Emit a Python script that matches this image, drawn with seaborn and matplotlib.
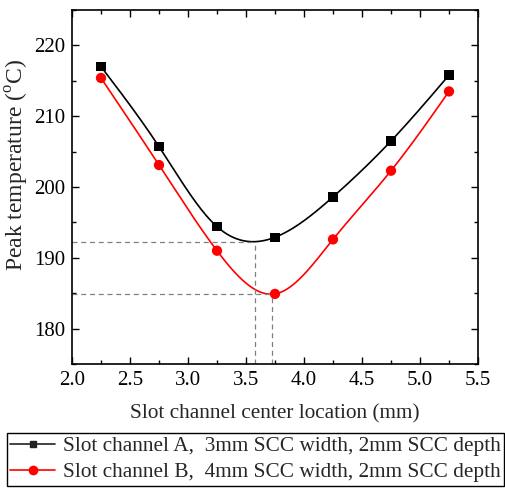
import numpy as np
import pandas as pd
import seaborn as sns
import matplotlib
matplotlib.use("Agg")
import matplotlib.pyplot as plt
from matplotlib.ticker import MultipleLocator
from matplotlib.lines import Line2D

location = [2.25, 2.75, 3.25, 3.75, 4.25, 4.75, 5.25]
temp_a = [217.0, 205.7, 194.4, 192.9, 198.6, 206.5, 215.8]
temp_b = [215.4, 203.1, 191.0, 184.9, 192.6, 202.3, 213.5]
label_a = "Slot channel A,  3mm SCC width, 2mm SCC depth"
label_b = "Slot channel B,  4mm SCC width, 2mm SCC depth"
min_a = (3.58, 192.3)
min_b = (3.72, 184.9)

sns.set_style("ticks")
plt.rcParams["font.family"] = ["Liberation Serif", "DejaVu Serif"]
plt.rcParams["mathtext.fontset"] = "custom"
plt.rcParams["mathtext.rm"] = "Liberation Serif"


def natural_spline(x, y, xs):
    x = np.asarray(x, float); y = np.asarray(y, float)
    n = len(x)
    h = np.diff(x)
    A = np.zeros((n, n)); r = np.zeros(n)
    A[0, 0] = A[-1, -1] = 1
    for i in range(1, n - 1):
        A[i, i - 1] = h[i - 1]; A[i, i] = 2 * (h[i - 1] + h[i]); A[i, i + 1] = h[i]
        r[i] = 3 * ((y[i + 1] - y[i]) / h[i] - (y[i] - y[i - 1]) / h[i - 1])
    c = np.linalg.solve(A, r)
    b = (y[1:] - y[:-1]) / h - h * (2 * c[:-1] + c[1:]) / 3
    d = (c[1:] - c[:-1]) / (3 * h)
    idx = np.clip(np.searchsorted(x, xs) - 1, 0, n - 2)
    t = xs - x[idx]
    return y[idx] + b[idx] * t + c[idx] * t ** 2 + d[idx] * t ** 3


fig = plt.figure(figsize=(5.05, 4.9), dpi=100)
ax = fig.add_axes([72 / 505, 1 - 364 / 490, 406 / 505, 354 / 490])

xs = np.linspace(location[0], location[-1], 300)
for y, col in [(temp_a, "black"), (temp_b, "red")]:
    sm = pd.DataFrame({"x": xs, "y": natural_spline(location, y, xs)})
    sns.lineplot(data=sm, x="x", y="y", ax=ax, color=col, lw=1.2, legend=False)

df_a = pd.DataFrame({"x": location, "y": temp_a})
df_b = pd.DataFrame({"x": location, "y": temp_b})
sns.scatterplot(data=df_a, x="x", y="y", ax=ax, marker="s", color="black", s=45, edgecolor="none", zorder=5)
sns.scatterplot(data=df_b, x="x", y="y", ax=ax, marker="o", color="red", s=55, edgecolor="none", zorder=5)

for (mx, my) in [min_a, min_b]:
    ax.plot([2.0, mx], [my, my], ls=(0, (4, 3)), color="gray", lw=0.9)
    ax.plot([mx, mx], [175, my], ls=(0, (4, 3)), color="gray", lw=0.9)

ax.set_xlim(2.0, 5.5)
ax.set_ylim(175, 225)
ax.xaxis.set_minor_locator(MultipleLocator(0.25))
ax.yaxis.set_minor_locator(MultipleLocator(5))
ax.set_xticks(np.arange(2.0, 5.51, 0.5))
ax.set_xticklabels([f"{v:.1f}" for v in np.arange(2.0, 5.51, 0.5)])
ax.set_yticks([180, 190, 200, 210, 220])
ax.tick_params(which="both", direction="in", top=True, right=True, labelsize=15, width=1, colors="black")
ax.tick_params(which="major", length=5, pad=5)
ax.tick_params(which="minor", length=3)
for s in ax.spines.values():
    s.set_linewidth(1.2); s.set_color("black")
ax.set_xlabel("Slot channel center location (mm)", fontsize=15.3, labelpad=10)
ax.set_ylabel("Peak temperature ($^{\\rm o}$C)", fontsize=17)
ax.yaxis.set_label_coords(-0.1, 0.562)

handles = [Line2D([], [], color="#222222", marker="s", markersize=5, lw=1.2),
           Line2D([], [], color="red", marker="o", markersize=6, lw=1.2)]
leg = fig.legend(handles, [label_a, label_b], loc="upper left", bbox_to_anchor=(7 / 505, 1 - 433 / 490),
                 fontsize=15.3, frameon=True, fancybox=False, edgecolor="black", framealpha=1,
                 handlelength=2.1, handletextpad=0.38, borderpad=0.15, labelspacing=0.3, borderaxespad=0)
leg.get_frame().set_linewidth(1.0)

fig.savefig("out.png", dpi=100)
